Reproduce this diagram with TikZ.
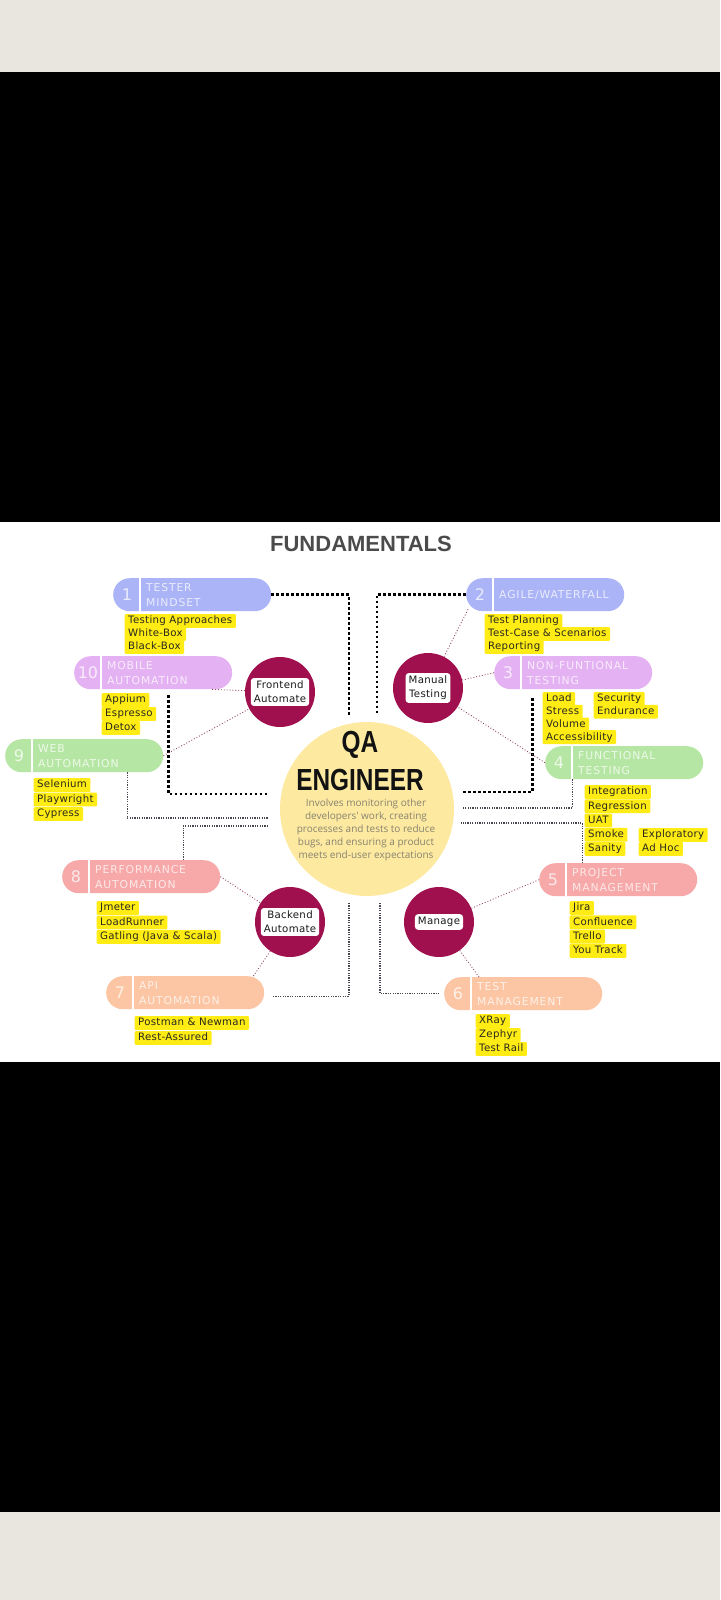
\documentclass[tikz,border=0pt]{standalone}
\usepackage{fontspec}
\setmainfont{DejaVu Sans}
\newfontfamily\itemfont[LetterSpace=3]{DejaVu Sans}
\newfontfamily\pillfont[LetterSpace=8]{DejaVu Sans}
\newfontfamily\numfont{DejaVu Sans}
\newfontfamily\titlefont{Liberation Sans}
\newfontfamily\descfont{Open Sans}
\definecolor{bggrey}{RGB}{232,230,223}
\definecolor{pblue}{RGB}{170,180,247}
\definecolor{ppink}{RGB}{228,178,242}
\definecolor{pgreen}{RGB}{182,230,164}
\definecolor{psalmon}{RGB}{247,168,168}
\definecolor{ppeach}{RGB}{252,198,164}
\definecolor{magc}{RGB}{160,16,78}
\definecolor{qayellow}{RGB}{253,234,160}
\definecolor{hlyellow}{RGB}{255,236,20}
\definecolor{itemtext}{RGB}{40,40,30}
\definecolor{desctext}{RGB}{135,130,112}
\definecolor{titlegrey}{RGB}{75,75,75}
\definecolor{magline}{RGB}{150,70,100}
\definecolor{thinline}{RGB}{70,70,80}
\newcommand\mkpill[6]{%
  \node[pillbox, fill=#4, anchor=north west] (#1) at (#2,#3) {};
  \draw[white, line width=1.3pt] ([xshift=27pt]#1.north west) -- ([xshift=27pt]#1.south west);
  \node[pillnum, text=#4!25!white] (#1n) at ([xshift=14pt]#1.west) {#5};
  \node[pilltext, text=#4!25!white] (#1t) at ([xshift=33pt]#1.west) {#6};
}
\newcommand\itemlist[5]{%
  \foreach \t [count=\k] in {#5} {\node[hl] (#1-\k) at ({#2-3.5},{#3+#4*(\k-1)}) {\t};}%
}
\begin{document}
\begin{tikzpicture}[x=1pt,y=-1pt,
  pillbox/.style={rectangle, minimum width=158pt, minimum height=33pt, rounded corners=16.5pt, inner sep=0pt},
  pillnum/.style={font=\numfont\fontsize{16}{16}\selectfont, inner sep=0pt},
  pilltext/.style={anchor=west, align=left, inner sep=0pt, font=\pillfont\fontsize{10.8}{15}\selectfont},
  hl/.style={anchor=west, fill=hlyellow, inner xsep=3.5pt, inner ysep=1.8pt, text height=8pt, text depth=2.2pt, rounded corners=1pt, text=itemtext, font=\itemfont\fontsize{10.2}{11}\selectfont},
  circ/.style={circle, fill=magc, minimum size=70pt, inner sep=0pt},
  clabel/.style={fill=white, rounded corners=3pt, align=center, inner xsep=3pt, inner ysep=3pt, text=black!90, font=\itemfont\fontsize{10.2}{14}\selectfont},
  heavy/.style={line width=2.6pt, dash pattern=on 2.6pt off 2.4pt, black},
  thind/.style={line width=1.3pt, dash pattern=on 1.2pt off 1.2pt, thinline},
  magd/.style={line width=0.9pt, dotted, magline},
]
\useasboundingbox (0,0) rectangle (720,1600);
\fill[bggrey] (0,0) rectangle (720,72);
\fill[black] (0,72) rectangle (720,522);
\fill[white] (0,522) rectangle (720,1062);
\fill[black] (0,1062) rectangle (720,1512);
\fill[bggrey] (0,1512) rectangle (720,1600);

% title
\node[anchor=base, inner sep=0pt, text=titlegrey, font=\titlefont\bfseries\fontsize{22}{22}\selectfont] (title) at (361,551) {FUNDAMENTALS};

% central circle
\node[circle, fill=qayellow, minimum size=174pt, inner sep=0pt] (qa) at (367,809) {};
\node[anchor=base, inner sep=0pt, text=black!93, font=\titlefont\bfseries\fontsize{30.5}{30}\selectfont] (qa1) at (360,752) {\scalebox{0.8}[1]{QA}};
\node[anchor=base, inner sep=0pt, text=black!93, font=\titlefont\bfseries\fontsize{30.5}{30}\selectfont] (qa2) at (360,790) {\scalebox{0.8}[1]{ENGINEER}};
\foreach \t [count=\k] in {Involves monitoring other, developers' work{,} creating, processes and tests to reduce, bugs{,} and ensuring a product, meets end-user expectations}
  {\node[anchor=base, inner sep=0pt, text=desctext, font=\descfont\fontsize{10}{12}\selectfont] (d\k) at (366,{806+13.2*(\k-1)}) {\t};}

% pills
\mkpill{p1}{113}{578}{pblue}{1}{TESTER\\MINDSET}
\mkpill{p2}{466}{578}{pblue}{2}{AGILE/WATERFALL}
\mkpill{p3}{494}{656}{ppink}{3}{NON-FUNTIONAL\\TESTING}
\mkpill{p4}{545}{746}{pgreen}{4}{FUNCTIONAL\\TESTING}
\mkpill{p5}{539}{863}{psalmon}{5}{PROJECT\\MANAGEMENT}
\mkpill{p6}{444}{977}{ppeach}{6}{TEST\\MANAGEMENT}
\mkpill{p7}{106}{976}{ppeach}{7}{API\\AUTOMATION}
\mkpill{p8}{62}{860}{psalmon}{8}{PERFORMANCE\\AUTOMATION}
\mkpill{p9}{5}{739}{pgreen}{9}{WEB\\AUTOMATION}
\mkpill{p10}{74}{656}{ppink}{10}{MOBILE\\AUTOMATION}

% item lists
\itemlist{i1}{128}{621}{13}{Testing Approaches, White-Box, Black-Box}
\itemlist{i2}{488}{621}{13}{Test Planning, Test-Case \& Scenarios, Reporting}
\itemlist{i10}{105}{700}{14}{Appium, Espresso, Detox}
\itemlist{i3a}{546}{699}{12.7}{Load, Stress, Volume, Accessibility}
\itemlist{i3b}{597}{699}{12.7}{Security, Endurance}
\itemlist{i9}{37}{785}{14.5}{Selenium, Playwright, Cypress}
\itemlist{i4a}{588}{792}{14.25}{Integration, Regression, UAT, Smoke, Sanity}
\itemlist{i4b}{642}{835}{14}{Exploratory, Ad Hoc}
\itemlist{i8}{100}{908}{14.5}{Jmeter, LoadRunner, Gatling (Java \& Scala)}
\itemlist{i5}{573}{908}{14.3}{Jira, Confluence, Trello, You Track}
\itemlist{i7}{138}{1023}{15}{Postman \& Newman, Rest-Assured}
\itemlist{i6}{479}{1021}{14}{XRay, Zephyr, Test Rail}

% circles
\node[circ] (fe) at (280,692) {};
\node[clabel] (fel) at (fe) {Frontend\\Automate};
\node[circ] (mt) at (428,688) {};
\node[clabel] (mtl) at (mt) {Manual\\Testing};
\node[circ] (be) at (290,922) {};
\node[clabel] (bel) at (be) {Backend\\Automate};
\node[circ] (mg) at (439,922) {};
\node[clabel] (mgl) at (mg) {Manage};

% free ends
\coordinate (c1) at (349,715);
\coordinate (c2) at (377,715);
\coordinate (c3) at (268,794);
\coordinate (c4) at (462,792);
\coordinate (c5) at (268,818);
\coordinate (c6) at (268,826);
\coordinate (c7) at (463,808);
\coordinate (c8) at (461,823);
\coordinate (c9) at (349,903);
\coordinate (c10) at (380,903);

% heavy dotted connectors
\draw[heavy] (p1.east) -| (c1);
\draw[heavy] (p2.west) -| (c2);
\draw[heavy] ([xshift=15pt,yshift=-6pt]p10.south) |- (c3);
\draw[heavy] ([xshift=-41pt,yshift=-9pt]p3.south) |- (c4);

% thin dotted connectors
\draw[thind] ([xshift=43pt]p9.south) |- (c5);
\draw[thind] ([xshift=42pt]p8.north) |- (c6);
\draw[thind] ([xshift=-52pt]p4.south) |- (c7);
\draw[thind] ([xshift=-36pt]p5.north) |- (c8);
\draw[thind] (c9) |- ([xshift=9pt,yshift=-3.5pt]p7.east);
\draw[thind] (c10) |- ([xshift=-4pt]p6.west);

% magenta dotted links
\draw[magd] ([xshift=59pt]p10.south) -- (fe);
\draw[magd] (p9.east) -- (fe);
\draw[magd] ([xshift=2pt,yshift=2pt]p2.south west) -- (mt);
\draw[magd] (p3.west) -- (mt);
\draw[magd] (p4.west) -- (mt);
\draw[magd] (p8.east) -- (be);
\draw[magd] ([xshift=-11pt]p7.north east) -- (be);
\draw[magd] (p5.west) -- (mg);
\draw[magd] ([xshift=35pt]p6.north west) -- (mg);
\end{tikzpicture}
\end{document}
